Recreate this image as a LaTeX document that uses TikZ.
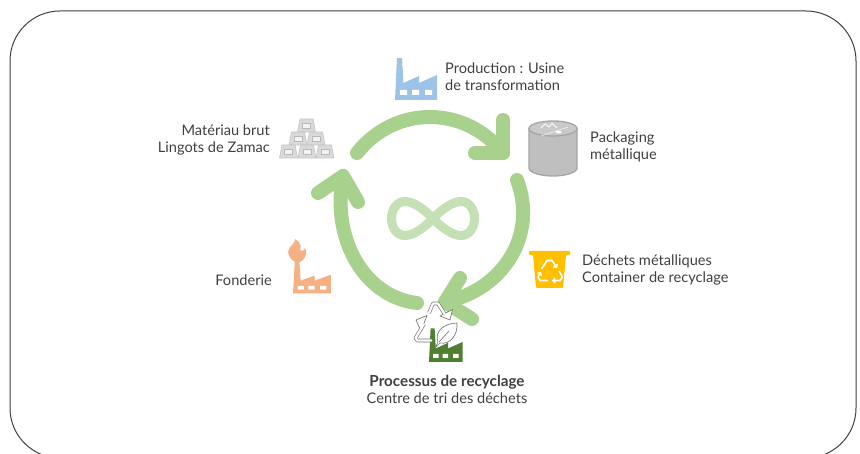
\documentclass[tikz,border=0pt]{standalone}
\usepackage{fontspec}
\setmainfont{Lato}
\usetikzlibrary{arrows.meta}
\definecolor{ringgreen}{HTML}{A9D18E}
\definecolor{infgreen}{HTML}{C5E0B4}
\definecolor{txt}{HTML}{404040}
\definecolor{fblue}{HTML}{9DC3E6}
\definecolor{forange}{HTML}{F4B183}
\definecolor{fgreen}{HTML}{4F7F30}
\definecolor{bin}{HTML}{FFC000}
\tikzset{
  ring/.style={draw=ringgreen,line width=14pt,line cap=round,line join=round},
  inf/.style={draw=infgreen,line width=9pt},
  lab/.style={font=\fontsize{14.6}{17}\selectfont,text=txt,inner sep=0pt,align=left},
  recyout/.style={draw=black!55,line width=3.6pt,line join=round},
  recyin/.style={draw=white,line width=2.3pt,line join=round},
  recyhead/.style={draw=black!55,fill=white,line width=.65pt,line join=round},
  binarrow/.style={draw=white,line width=1.6pt,line join=round,-{Straight Barb[length=2pt,width=4.5pt]}},
}
% factory: lower-left corner at (#1,#2), scales #3 and #4, colour #5; 42 by 42 units
\newcommand{\myfactory}[5]{%
  \begin{scope}[shift={(#1,#2)},x=#3pt,y=-#4pt]
    \fill[#5] (0,0) -- (2,-42) -- (7,-42) -- (8.5,-17) -- (24,-24) -- (24,-17) -- (42,-25) -- (42,0) -- cycle;
    \fill[white] (5,-10) rectangle (12,-5) (17,-10) rectangle (24,-5) (30,-10) rectangle (37,-5);
  \end{scope}}
\newcommand{\myingot}[2]{%
  \begin{scope}[shift={(#1,#2)}]
    \fill[gray!30,draw=gray!45,line width=.6pt] (2.5,0) -- (15.5,0) -- (18,13) -- (0,13) -- cycle;
    \fill[white!90!gray,draw=gray!55,line width=.6pt] (5,4) rectangle (13,9);
  \end{scope}}
\begin{document}
\begin{tikzpicture}[x=1pt,y=-1pt]
\useasboundingbox (0,0) rectangle (860,454);
\clip (0,0) rectangle (860,454);
\fill[white] (0,0) rectangle (860,454);
\draw[txt,line width=1pt,rounded corners=50pt] (10,11) rectangle (856,458);

% ring
\coordinate (tS) at (357,153); \coordinate (tE) at (503,153);
\coordinate (tA) at (503,120); \coordinate (tB) at (475,153);
\coordinate (rS) at (517,180); \coordinate (rE) at (445,302);
\coordinate (rA) at (460,278); \coordinate (rB) at (472,319);
\coordinate (lS) at (417,303); \coordinate (lE) at (343,176);
\coordinate (lA) at (318,193); \coordinate (lB) at (358,202);
\draw[ring] (tS) .. controls (395,105) and (465,105) .. (tE);
\draw[ring] (tA) -- (tE) -- (tB);
\draw[ring] (rS) .. controls (538,235) and (503,290) .. (rE);
\draw[ring] (rA) -- (rE) -- (rB);
\draw[ring] (lS) .. controls (365,297) and (331,240) .. (lE);
\draw[ring] (lA) -- (lE) -- (lB);

% infinity
\coordinate (ic) at (433,218.5);
\draw[inf] (ic) .. controls (422,207) and (412,201.5) .. (405,201.5)
  .. controls (397,201.5) and (391.5,209) .. (391.5,218.5)
  .. controls (391.5,228) and (397,235.5) .. (405,235.5)
  .. controls (412,235.5) and (422,230) .. (ic)
  .. controls (444,207) and (454,201.5) .. (461,201.5)
  .. controls (469,201.5) and (474.5,209) .. (474.5,218.5)
  .. controls (474.5,228) and (469,235.5) .. (461,235.5)
  .. controls (454,235.5) and (444,230) .. (ic) -- cycle;

% factories
\myfactory{395}{100}{1}{1}{fblue}
\myfactory{293}{293.5}{.9}{.75}{forange}
\fill[forange] (298,263) .. controls (290,261) and (285.5,252) .. (290,247)
  .. controls (292,245) and (295,243) .. (295,239)
  .. controls (300,242) and (302,246) .. (300,250)
  .. controls (301,252) and (304,251) .. (305,248)
  .. controls (308,255) and (304,261) .. (298,263) -- cycle;
\myfactory{429}{362}{.8}{.8}{fgreen}

% recycling arrows and leaf
\draw[recyout] (429,313) -- (433,303.5) -- (438,303.5) -- (445,314.5);
\filldraw[recyhead] (452.5,309.5) -- (450,320) -- (440,316) -- cycle;
\draw[recyin] (429,313) -- (433,303.5) -- (438,303.5) -- (445,314.5);
\draw[recyout] (424,324) -- (415.5,338) -- (417.5,340.5) -- (432,340.5);
\filldraw[recyhead] (427,315.5) -- (416,320) -- (421,331) -- cycle;
\draw[recyin] (424,324) -- (415.5,338) -- (417.5,340.5) -- (432,340.5);
\filldraw[recyhead] (435,348) -- (438,342) .. controls (434,332) and (444,323) .. (457,323)
  .. controls (458,335) and (450,345) .. (440,343) -- cycle;
\draw[black!55,line width=.6pt] (439,342) -- (449,331);

% bin
\fill[bin,rounded corners=1pt] (529,251) -- (570,251) -- (570,255) -- (566,255) -- (563,288) -- (536,288) -- (533,255) -- (529,255) -- cycle;
\draw[binarrow] (541.5,269) -- (547,260.5) -- (552,260.5) -- (557,268);
\draw[binarrow] (559,271) -- (562.5,277) -- (560,280.5) -- (552,280.5);
\draw[binarrow] (548,280.5) -- (540,280.5) -- (538,277) -- (541,272);

% can
\filldraw[fill=gray!50,draw=gray!70,line width=1.3pt] (529,128.5) -- (529,168) arc[start angle=180,end angle=0,x radius=24,y radius=8] -- (577,128.5) -- cycle;
\filldraw[fill=gray!42,draw=gray!70,line width=1.3pt] (553,128.5) ellipse[x radius=24,y radius=7.5];
\draw[white,line width=.9pt,line join=round] (541,128) -- (545,124) -- (549,127) -- (552,123.5) -- (557,128);
\fill[white] (558.5,132) ellipse[x radius=3,y radius=1.4];
\draw[white,line width=.4pt] (541,136) -- (568,127);

% ingots
\myingot{297.5}{119}
\myingot{289}{132}
\myingot{307}{132}
\myingot{279.5}{145}
\myingot{298}{145}
\myingot{316}{145}

% labels
\node[lab,anchor=west] (prod) at (445,76.5) {Production : Usine\\de transformation};
\node[lab,anchor=west] (pack) at (590,146.5) {Packaging\\métallique};
\node[lab,anchor=west] (dech) at (582,269.5) {Déchets métalliques\\Container de recyclage};
\node[lab,anchor=east] (fond) at (272,280) {Fonderie};
\node[lab,anchor=east,align=right] (brut) at (270,139.5) {Matériau brut\\Lingots de Zamac};
\node[lab,anchor=center,align=center] (proc) at (447,389.5) {\fontsize{15.2}{17}\selectfont\textbf{Processus de recyclage}\\Centre de tri des déchets};
\end{tikzpicture}
\end{document}
